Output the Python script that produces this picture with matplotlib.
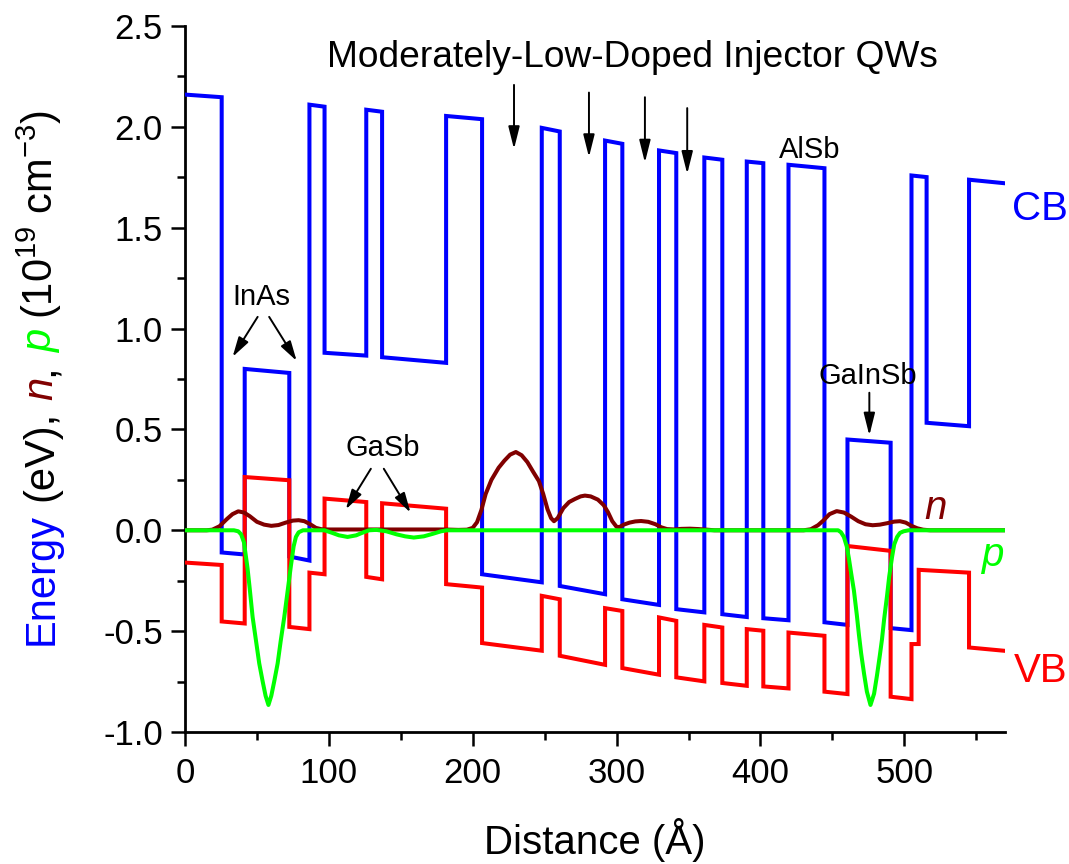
import matplotlib
matplotlib.use("Agg")
import matplotlib.pyplot as plt
from matplotlib.ticker import MultipleLocator, FormatStrFormatter

plt.rcParams['font.family'] = ['Liberation Sans', 'DejaVu Sans']
plt.rcParams['mathtext.fontset'] = 'custom'
plt.rcParams['mathtext.rm'] = 'Liberation Sans'
plt.rcParams['mathtext.it'] = 'Liberation Sans:italic'
plt.rcParams['axes.unicode_minus'] = False

# ---------------- data ----------------
cb_x = [0, 25.5, 25.5, 41.5, 41.5, 72.5, 72.5, 86.5, 86.5, 97, 97, 126, 126, 137, 137, 181.5,
        181.5, 206.5, 206.5, 248, 248, 260.5, 260.5, 292, 292, 304, 304, 329.5, 329.5, 341.5,
        341.5, 361, 361, 373.5, 373.5, 390.5, 390.5, 402, 402, 419.5, 419.5, 444.5, 444.5, 460.5,
        460.5, 490.5, 490.5, 505, 505, 515.5, 515.5, 545, 545, 569]
cb_e = [2.16, 2.147, -0.11, -0.12, 0.80, 0.78, -0.13, -0.15, 2.11, 2.10, 0.88, 0.866, 2.085, 2.075,
        0.858, 0.83, 2.054, 2.038, -0.218, -0.258, 1.995, 1.977, -0.276, -0.317, 1.932, 1.916,
        -0.342, -0.37, 1.883, 1.87, -0.391, -0.407, 1.848, 1.837, -0.416, -0.43, 1.828, 1.82,
        -0.436, -0.446, 1.812, 1.795, -0.456, -0.469, 0.45, 0.434, -0.485, -0.495, 1.759, 1.751,
        0.533, 0.516, 1.738, 1.721]

vb_x = [0, 25.5, 25.5, 41.5, 41.5, 72.5, 72.5, 86.5, 86.5, 97, 97, 126, 126, 137, 137, 181.5,
        181.5, 206.5, 206.5, 248, 248, 260.5, 260.5, 292, 292, 304, 304, 329.5, 329.5, 341.5,
        341.5, 361, 361, 373.5, 373.5, 390.5, 390.5, 402, 402, 419.5, 419.5, 444.5, 444.5, 460.5,
        460.5, 490.5, 490.5, 505, 505, 510, 510, 545, 545, 569]
vb_e = [-0.16, -0.172, -0.452, -0.462, 0.264, 0.248, -0.479, -0.49, -0.21, -0.218, 0.157, 0.14,
        -0.231, -0.243, 0.134, 0.107, -0.267, -0.284, -0.559, -0.597, -0.325, -0.342, -0.622,
        -0.667, -0.386, -0.40, -0.683, -0.716, -0.432, -0.449, -0.729, -0.749, -0.469, -0.482,
        -0.757, -0.771, -0.49, -0.498, -0.774, -0.784, -0.507, -0.523, -0.80, -0.812, -0.078,
        -0.102, -0.825, -0.837, -0.564, -0.564, -0.196, -0.21, -0.581, -0.597]

n_x = [0, 15, 19, 24, 29, 33, 37, 41, 45, 50, 55, 60, 65, 70, 75, 79, 83, 87, 91, 95, 100, 140,
       180, 190, 196, 200, 203, 206, 209, 213, 218, 222, 226, 230, 234, 238, 242, 246, 249, 252,
       254.5, 256.5, 259, 263, 267, 271, 275, 278, 282, 287, 291, 294, 297, 300, 302, 305, 309,
       313, 317, 322, 327, 331, 335, 340, 345, 351, 357, 363, 368, 430, 435, 440, 444, 448, 453,
       458, 463, 468, 473, 478, 483, 488, 493, 497, 501, 505, 509, 513, 518, 569]
n_v = [0, 0, 0.003, 0.02, 0.055, 0.08, 0.094, 0.088, 0.07, 0.042, 0.028, 0.022, 0.026, 0.038,
       0.048, 0.05, 0.045, 0.03, 0.012, 0.005, 0.004, 0.004, 0.004, 0.002, 0.003, 0.012, 0.04,
       0.10, 0.18, 0.25, 0.31, 0.345, 0.375, 0.388, 0.372, 0.338, 0.29, 0.244, 0.18, 0.104, 0.06,
       0.045, 0.06, 0.11, 0.14, 0.155, 0.168, 0.172, 0.168, 0.152, 0.125, 0.09, 0.045, 0.017,
       0.016, 0.028, 0.038, 0.044, 0.046, 0.042, 0.03, 0.015, 0.006, 0.004, 0.007, 0.008, 0.006,
       0.003, 0.0, 0.0, 0.005, 0.025, 0.05, 0.08, 0.095, 0.088, 0.068, 0.045, 0.03, 0.025, 0.028,
       0.035, 0.043, 0.045, 0.038, 0.022, 0.01, 0.003, 0.0, 0.0]

p_x = [0, 34, 37, 39, 41, 43.5, 45, 47, 49, 51.6, 54, 56, 58, 60, 62, 64.4, 66.5, 69, 71, 73.6,
       75.5, 77.1, 79, 82, 97, 102, 107, 113, 119, 124, 128, 133, 140, 147, 153, 159, 166, 172,
       178, 182, 454, 456, 458, 460, 461.5, 463, 465, 467, 468.5, 470, 472, 474, 476.5, 479, 481,
       483, 484.5, 486, 488, 489.5, 491.5, 493, 495, 497, 499.5, 503, 569]
p_v = [0, 0, -0.005, -0.02, -0.06, -0.19, -0.29, -0.43, -0.53, -0.66, -0.75, -0.82, -0.866,
       -0.82, -0.75, -0.66, -0.55, -0.43, -0.32, -0.177, -0.08, -0.033, -0.01, 0, 0, -0.012,
       -0.025, -0.033, -0.025, -0.01, 0, 0.002, -0.005, -0.02, -0.03, -0.036, -0.03, -0.018,
       -0.005, 0, 0, -0.01, -0.033, -0.08, -0.14, -0.21, -0.30, -0.42, -0.52, -0.61, -0.71, -0.80,
       -0.866, -0.81, -0.72, -0.62, -0.54, -0.44, -0.325, -0.23, -0.132, -0.07, -0.033, -0.013,
       -0.005, 0, 0]

x_ticks = [0, 100, 200, 300, 400, 500]
y_ticks = [-1.0, -0.5, 0.0, 0.5, 1.0, 1.5, 2.0, 2.5]

# ---------------- figure ----------------
W, H = 1069, 864
fig = plt.figure(figsize=(W / 100, H / 100), dpi=100)
ax = fig.add_axes([185 / W, 132 / H, 820 / W, 706 / H])

lw = 2.9
ax.plot(cb_x, cb_e, color='#0000FF', lw=lw, solid_joinstyle='miter', zorder=3)
ax.plot(vb_x, vb_e, color='#FF0000', lw=lw, solid_joinstyle='miter', zorder=3)
ax.plot(n_x, n_v, color='#800000', lw=lw, zorder=4)
ax.plot(p_x, p_v, color='#00FF00', lw=lw, zorder=5)

ax.set_xlim(0, 570)
ax.set_ylim(-1.0, 2.5)
ax.set_xticks(x_ticks)
ax.set_yticks(y_ticks)
ax.xaxis.set_minor_locator(MultipleLocator(50))
ax.yaxis.set_minor_locator(MultipleLocator(0.25))
ax.yaxis.set_major_formatter(FormatStrFormatter('%.1f'))
for s in ['top', 'right']:
    ax.spines[s].set_visible(False)
for s in ['left', 'bottom']:
    ax.spines[s].set_linewidth(2.0)
ax.tick_params(which='major', direction='out', length=10, width=1.8, labelsize=25)
ax.tick_params(which='minor', direction='out', length=5.5, width=1.8)
ax.tick_params(axis='y', which='major', pad=6)
ax.tick_params(axis='x', which='major', pad=8)

# x label
fig.text(595 / W, (H - 840) / H, 'Distance (Å)', ha='center', va='center', fontsize=29)

# multicolour y label, built bottom to top
x0 = 52.5
y0 = H - 645
fs = 30
sp = 0.278 * fs
pieces = [('Energy', '#0000FF', 'normal', 0),
          ('(eV),', 'black', 'normal', sp),
          ('n', '#800000', 'italic', sp),
          (',', 'black', 'normal', 0),
          ('p', '#00FF00', 'italic', sp),
          ('(10$^{19}$ cm$^{-3}$)', 'black', 'normal', sp)]
last = None
for txt, col, sty, gap in pieces:
    kw = dict(rotation=90, rotation_mode='anchor', ha='left', va='baseline',
              fontsize=fs, color=col, fontstyle=sty)
    if last is None:
        last = fig.text(x0 / W, y0 / H, txt, **kw)
    else:
        last = ax.annotate(txt, xy=(x0, 1.0), xycoords=('figure pixels', last),
                           xytext=(0, gap), textcoords='offset points',
                           annotation_clip=False, **kw)

# annotations
tfs = 21
ax.text(310.8, 2.298, 'Moderately-Low-Doped Injector QWs', ha='center', va='baseline',
        fontsize=26.7)
ax.text(434, 1.845, 'AlSb', ha='center', va='baseline', fontsize=tfs)
ax.text(53.1, 1.119, 'InAs', ha='center', va='baseline', fontsize=tfs)
ax.text(137.2, 0.368, 'GaSb', ha='center', va='baseline', fontsize=tfs)
ax.text(474.3, 0.723, 'GaInSb', ha='center', va='baseline', fontsize=tfs)
ax.text(575, 1.54, 'CB', color='#0000FF', ha='left', va='baseline', fontsize=29,
        clip_on=False)
ax.text(576.4, -0.754, 'VB', color='#FF0000', ha='left', va='baseline', fontsize=29,
        clip_on=False)
ax.text(514, 0.054, 'n', color='#800000', ha='left', va='baseline', fontsize=29,
        fontstyle='italic')
ax.text(554, -0.177, 'p', color='#00FF00', ha='left', va='baseline', fontsize=29,
        fontstyle='italic')

vert_style = dict(arrowstyle='-|>,head_length=0.68,head_width=0.17', color='black',
                  lw=1.4, shrinkA=0, shrinkB=0, mutation_scale=20)
diag_style = dict(arrowstyle='-|>,head_length=0.6,head_width=0.17', color='black',
                  lw=1.4, shrinkA=0, shrinkB=0, mutation_scale=20)
arrows_v = [((228.7, 2.208), (228.7, 1.89)),
            ((280.8, 2.17), (280.8, 1.85)),
            ((319.7, 2.147), (319.7, 1.823)),
            ((349.1, 2.093), (349.1, 1.767)),
            ((475.7, 0.682), (475.7, 0.47))]
for (x1, y1), (x2, y2) in arrows_v:
    ax.annotate('', xy=(x2, y2), xytext=(x1, y1), arrowprops=vert_style)
arrows_d = [((50.5, 1.058), (33.1, 0.86)),
            ((58.5, 1.058), (77.6, 0.84)),
            ((129.2, 0.305), (111.8, 0.104)),
            ((138.2, 0.305), (156.7, 0.088))]
for (x1, y1), (x2, y2) in arrows_d:
    ax.annotate('', xy=(x2, y2), xytext=(x1, y1), arrowprops=diag_style)

fig.savefig('out.png', dpi=100)
